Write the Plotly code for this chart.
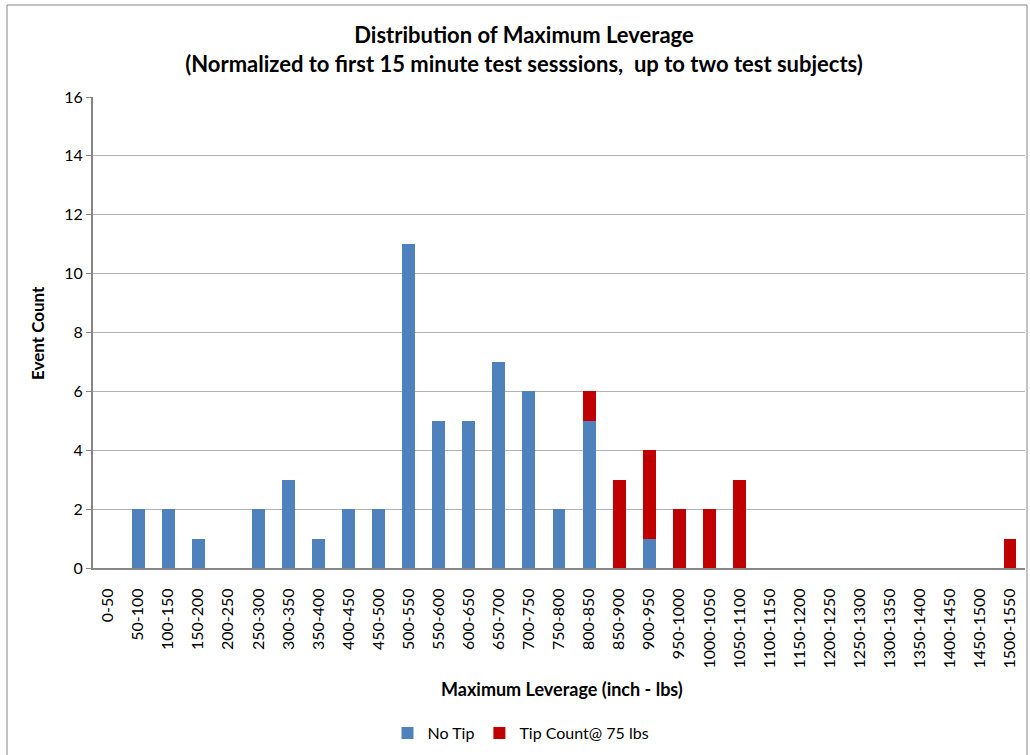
import plotly.graph_objects as go

categories = ["0-50", "50-100", "100-150", "150-200", "200-250", "250-300", "300-350",
              "350-400", "400-450", "450-500", "500-550", "550-600", "600-650", "650-700",
              "700-750", "750-800", "800-850", "850-900", "900-950", "950-1000", "1000-1050",
              "1050-1100", "1100-1150", "1150-1200", "1200-1250", "1250-1300", "1300-1350",
              "1350-1400", "1400-1450", "1450-1500", "1500-1550"]
no_tip = [0, 2, 2, 1, 0, 2, 3, 1, 2, 2, 11, 5, 5, 7, 6, 2, 5, 0, 1, 0, 0,
          0, 0, 0, 0, 0, 0, 0, 0, 0, 0]
tip_count = [0, 0, 0, 0, 0, 0, 0, 0, 0, 0, 0, 0, 0, 0, 0, 0, 1, 3, 3, 2, 2,
             3, 0, 0, 0, 0, 0, 0, 0, 0, 1]

FONT = "Lato"
W, H = 1030, 755
L, R, T, B = 93, 5, 97, 187
pw, ph = W - L - R, H - T - B

fig = go.Figure()
fig.add_trace(go.Bar(x=categories, y=no_tip, name="No Tip", marker_color="#4F81BD",
                     marker_line_width=0))
fig.add_trace(go.Bar(x=categories, y=tip_count, name="Tip Count@ 75 lbs",
                     marker_color="#C00000", marker_line_width=0))

fig.update_layout(
    width=W, height=H,
    barmode="stack", bargap=0.57,
    margin=dict(l=L, r=R, t=T, b=B, autoexpand=False),
    paper_bgcolor="white", plot_bgcolor="white",
    font=dict(family=FONT, size=15, color="#000000"),
    title=dict(text="<b>Distribution of Maximum Leverage<br>(Normalized to first 15 minute test sesssions,  up to two test subjects)</b>",
               x=524 / W, xref="container", xanchor="center",
               y=1 - 43 / H, yref="container", yanchor="middle",
               font=dict(family=FONT, size=22, color="#000000")),
    xaxis=dict(type="category", tickangle=-90, showgrid=False,
               showline=True, linecolor="#868686", linewidth=2,
               ticks="", automargin=False, ticklabelstandoff=12,
               tickfont=dict(family=FONT, size=16, color="#000000")),
    yaxis=dict(range=[0, 16], dtick=2, showgrid=True, gridcolor="#B3B3B3", gridwidth=1,
               showline=True, linecolor="#868686", linewidth=2,
               ticks="outside", ticklen=5, tickcolor="#868686",
               zeroline=False, automargin=False,
               tickfont=dict(family=FONT, size=16, color="#000000")),
    legend=dict(orientation="h", xref="container", yref="container",
                x=521 / W, xanchor="center", y=1 - 733 / H, yanchor="middle",
                font=dict(family=FONT, size=16, color="#000000"),
                itemwidth=30, traceorder="normal"),
)

# axis titles
fig.add_annotation(text="<b>Maximum Leverage (inch - lbs)</b>", xref="paper", yref="paper",
                   x=(562 - L) / pw, y=(H - B - 689) / ph, showarrow=False,
                   xanchor="center", yanchor="middle",
                   font=dict(family=FONT, size=18, color="#000000"))
fig.add_annotation(text="<b>Event Count</b>", xref="paper", yref="paper",
                   x=(37 - L) / pw, y=(H - B - 333) / ph, showarrow=False, textangle=-90,
                   xanchor="center", yanchor="middle",
                   font=dict(family=FONT, size=17, color="#000000"))

# outer chart border
fig.add_shape(type="rect", xref="paper", yref="paper",
              x0=(7 - L) / pw, x1=(1027 - L) / pw,
              y0=(H - B - 760) / ph, y1=(H - B - 5) / ph,
              line=dict(color="#868686", width=1), fillcolor="rgba(0,0,0,0)", layer="below")

fig.write_html("out.html", config={"displayModeBar": False},
               post_script="document.body.style.margin='0';")
